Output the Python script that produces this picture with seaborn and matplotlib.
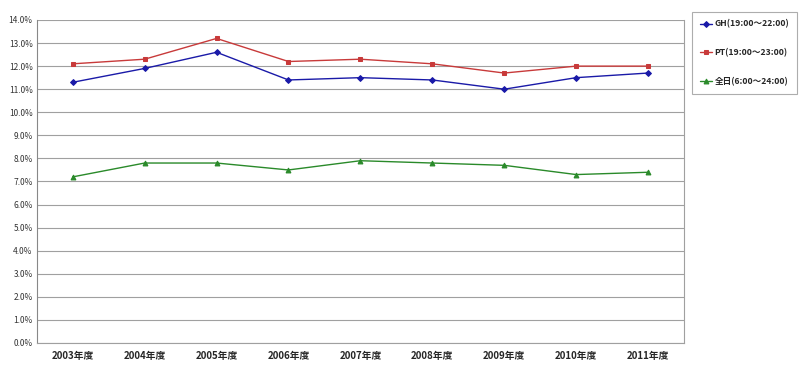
import matplotlib
matplotlib.use('Agg')
import matplotlib.pyplot as plt
import pandas as pd
import seaborn as sns

years = ['2003年度', '2004年度', '2005年度', '2006年度', '2007年度',
         '2008年度', '2009年度', '2010年度', '2011年度']
gh = [11.3, 11.9, 12.6, 11.4, 11.5, 11.4, 11.0, 11.5, 11.7]
pt = [12.1, 12.3, 13.2, 12.2, 12.3, 12.1, 11.7, 12.0, 12.0]
allday = [7.2, 7.8, 7.8, 7.5, 7.9, 7.8, 7.7, 7.3, 7.4]
labels = ['GH(19:00～22:00)', 'PT(19:00～23:00)', '全日(6:00～24:00)']

sns.set_style('white')
plt.rcParams['font.family'] = ['Noto Sans CJK JP', 'DejaVu Sans']

fig = plt.figure(figsize=(8, 3.7), dpi=100)
ax = fig.add_axes([0.046, 0.073, 0.809, 0.873])

styles = [(gh, '#1a1aa8', 'D', 3.0), (pt, '#c83a3a', 's', 3.0), (allday, '#2a8a2a', '^', 3.5)]
for (vals, col, mk, ms), lab in zip(styles, labels):
    df = pd.DataFrame({'x': range(len(years)), 'y': vals})
    sns.lineplot(data=df, x='x', y='y', ax=ax, color=col, marker=mk,
                 markersize=ms, markeredgecolor=col, linewidth=1.0, label=lab)

ax.set_xlim(-0.5, len(years) - 0.5)
ax.set_ylim(0, 14)
ax.set_yticks([i for i in range(15)])
ax.set_yticklabels(['%.1f%%' % i for i in range(15)], fontsize=6, color='#333333')
ax.set_xticks(range(len(years)))
ax.set_xticklabels(years, fontsize=7, fontweight='bold')
ax.set_xticks([i + 0.5 for i in range(-1, len(years))], minor=True)
ax.tick_params(axis='x', which='major', length=0, pad=6)
ax.tick_params(axis='x', which='minor', length=3, color='#999999', direction='in')
ax.tick_params(axis='y', length=0, pad=3)
ax.grid(axis='y', color='#a0a0a0', linewidth=0.8)
ax.set_axisbelow(True)
ax.set_xlabel('')
ax.set_ylabel('')
ax.spines['top'].set_visible(False)
ax.spines['right'].set_color('#a0a0a0')
ax.spines['left'].set_color('#888888')
ax.spines['bottom'].set_color('#a0a0a0')

leg = ax.legend(loc='upper left', bbox_to_anchor=(0.865, 0.968), bbox_transform=fig.transFigure,
                fontsize=6.2, frameon=True, fancybox=False, labelspacing=2.3,
                handlelength=1.4, handletextpad=0.3, borderpad=0.9, borderaxespad=0)
leg.get_frame().set_edgecolor('#999999')
leg.get_frame().set_linewidth(0.8)
for t in leg.get_texts():
    t.set_fontweight('bold')

fig.savefig('out.png', dpi=100)
